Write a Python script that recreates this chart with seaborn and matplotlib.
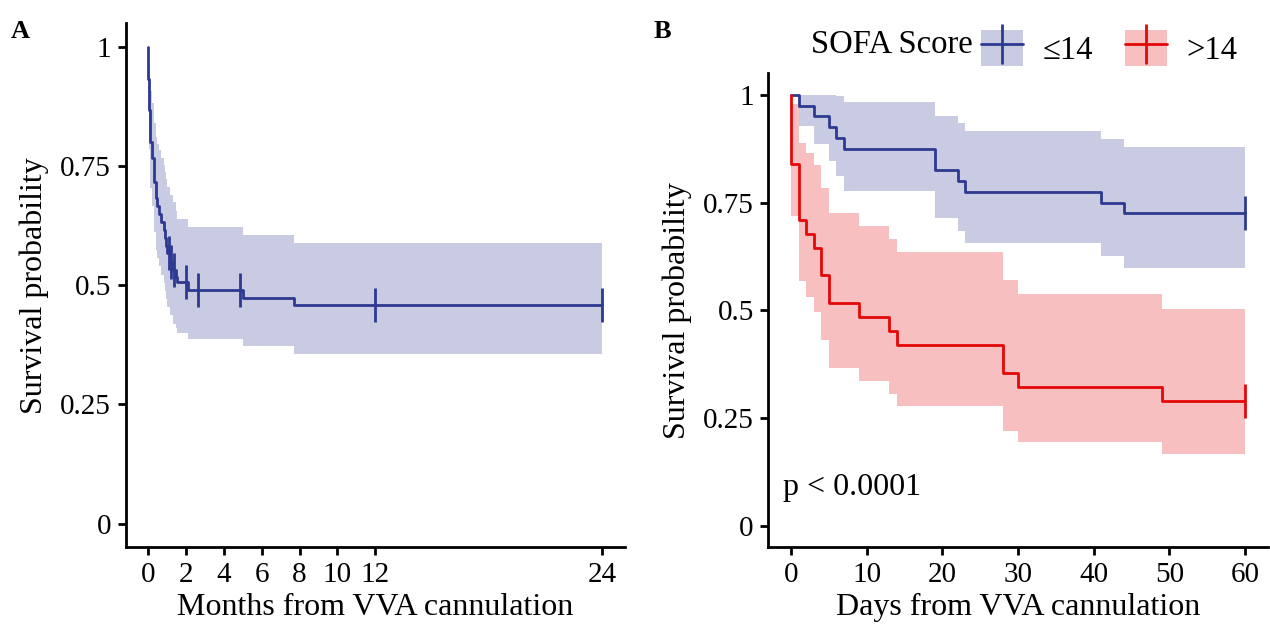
import numpy as np
import matplotlib
matplotlib.use("Agg")
import matplotlib.pyplot as plt
import seaborn as sns
from matplotlib.patches import Patch
from matplotlib.lines import Line2D

# ---- Panel A: overall survival (months) ----
months_event = [0.00, 0.04, 0.10, 0.20, 0.30, 0.38, 0.47, 0.56, 0.65, 0.80,
                0.88, 0.92, 0.97, 1.15, 1.28, 1.45, 1.50, 2.12, 5.00, 7.73]
surv_all = [0.933, 0.867, 0.800, 0.767, 0.717, 0.683, 0.667, 0.650, 0.633, 0.617,
            0.600, 0.583, 0.567, 0.549, 0.532, 0.518, 0.506, 0.490, 0.474, 0.458]
upper_all = [0.999, 0.957, 0.908, 0.882, 0.840, 0.812, 0.797, 0.783, 0.768, 0.753,
             0.738, 0.723, 0.707, 0.690, 0.675, 0.655, 0.640, 0.622, 0.605, 0.589]
lower_all = [0.872, 0.785, 0.705, 0.667, 0.611, 0.575, 0.558, 0.540, 0.522, 0.505,
             0.488, 0.471, 0.454, 0.437, 0.419, 0.410, 0.400, 0.388, 0.372, 0.356]
months_censor = [1.11, 1.22, 1.33, 1.98, 2.65, 4.87, 12.0, 24.0]
months_end = 24.0
month_ticks = [0, 2, 4, 6, 8, 10, 12, 24]

# ---- Panel B: survival by SOFA score (days) ----
days_low = [1, 3, 5, 6, 7, 19, 22, 23, 41, 44]
surv_low = [0.975, 0.950, 0.925, 0.900, 0.875, 0.825, 0.800, 0.775, 0.750, 0.725]
upper_low = [1.000, 1.000, 1.000, 0.998, 0.984, 0.952, 0.934, 0.916, 0.897, 0.878]
lower_low = [0.928, 0.885, 0.847, 0.812, 0.778, 0.715, 0.685, 0.656, 0.627, 0.599]

days_high = [0, 1, 2, 3, 4, 5, 9, 13, 14, 28, 30, 49]
surv_high = [0.839, 0.710, 0.677, 0.645, 0.581, 0.516, 0.484, 0.452, 0.419, 0.355, 0.323, 0.290]
upper_high = [0.979, 0.889, 0.864, 0.838, 0.783, 0.726, 0.696, 0.666, 0.635, 0.570, 0.537, 0.503]
lower_high = [0.719, 0.567, 0.531, 0.497, 0.431, 0.367, 0.336, 0.306, 0.277, 0.221, 0.194, 0.167]

days_censor = [60]
days_end = 60
day_ticks = [0, 10, 20, 30, 40, 50, 60]

group_labels = ["\u226414", ">14"]
y_ticks = [0, 0.25, 0.5, 0.75, 1]
y_ticklabels = ["0", "0.25", "0.5", "0.75", "1"]

BLUE = "#2E3991"
RED = "#E30808"
FILL_ALPHA = 0.26

sns.set_style("ticks")
plt.rcParams["font.family"] = ["Liberation Serif", "DejaVu Serif"]
plt.rcParams["text.color"] = "black"
plt.rcParams["axes.labelcolor"] = "black"
plt.rcParams["xtick.color"] = "black"
plt.rcParams["ytick.color"] = "black"
plt.rcParams["axes.linewidth"] = 2.0

fig = plt.figure(figsize=(12.7, 6.31), dpi=100)
axA = fig.add_axes([0.0990, 0.1326, 0.3928, 0.8306])
axB = fig.add_axes([0.6050, 0.1326, 0.3932, 0.7512])


def km_curve(ax, times, surv, upper, lower, t_end, censor, color):
    x = np.array([0.0] + list(times) + [t_end], dtype=float)
    y = np.array([1.0] + list(surv) + [surv[-1]])
    hi = np.array([1.0] + list(upper) + [upper[-1]])
    lo = np.array([1.0] + list(lower) + [lower[-1]])
    ax.fill_between(x, lo, hi, step="post", color=color, alpha=FILL_ALPHA, lw=0)
    sns.lineplot(x=x, y=y, ax=ax, color=color, lw=2.0, estimator=None,
                 sort=False, drawstyle="steps-post")
    # censoring marks sit on the curve
    idx = np.searchsorted(np.array(times, dtype=float), np.array(censor, dtype=float),
                          side="right")
    cy = np.array([1.0] + list(surv))[idx]
    ax.plot(censor, cy, ls="none", marker="|", ms=24, mew=2.0, color=color)


def style_axis(ax, xticks, xmax, xlabel):
    ax.set_xlim(-0.05 * xmax, 1.05 * xmax)
    ax.set_ylim(-0.05, 1.05)
    ax.set_xticks(xticks)
    ax.set_xticklabels([str(t) for t in xticks])
    ax.set_yticks(y_ticks)
    ax.set_yticklabels(y_ticklabels)
    ax.tick_params(axis="both", labelsize=21, length=5.5, width=2, color="black",
                   labelcolor="black", pad=5, direction="out",
                   bottom=True, left=True, top=False, right=False)
    for side in ("top", "right"):
        ax.spines[side].set_visible(False)
    for side in ("left", "bottom"):
        ax.spines[side].set_color("black")
        ax.spines[side].set_linewidth(2.0)
    ax.set_xlabel(xlabel, fontsize=23, labelpad=4)
    ax.set_ylabel("Survival probability", fontsize=23, labelpad=8)


km_curve(axA, months_event, surv_all, upper_all, lower_all, months_end,
         months_censor, BLUE)
style_axis(axA, month_ticks, months_end, "Months from VVA cannulation")

km_curve(axB, days_low, surv_low, upper_low, lower_low, days_end, days_censor, BLUE)
km_curve(axB, days_high, surv_high, upper_high, lower_high, days_end, days_censor, RED)
style_axis(axB, day_ticks, days_end, "Days from VVA cannulation")
axB.text(-1.0, 0.09, "p < 0.0001", fontsize=23, ha="left", va="center")

# panel letters
fig.text(11 / 1270, 1 - 31 / 631, "A", fontsize=19, fontweight="bold", va="center")
fig.text(654 / 1270, 1 - 31 / 631, "B", fontsize=19, fontweight="bold", va="center")

# legend for the SOFA groups
fig.text(811 / 1270, 1 - 45 / 631, "SOFA Score", fontsize=23.5, va="center", ha="left")
handles = []
for c in (BLUE, RED):
    handles.append((Patch(facecolor=c, alpha=FILL_ALPHA, lw=0),
                    Line2D([], [], color=c, lw=2.0, marker="|", ms=29, mew=2.0)))
fig.legend(handles, group_labels, loc="center left",
           bbox_to_anchor=(981 / 1270, 1 - 48 / 631), ncol=2, frameon=False,
           fontsize=23.5, handlelength=1.3, handleheight=1.3, handletextpad=0.6,
           columnspacing=0.95, borderpad=0, borderaxespad=0)

fig.savefig("out.png", dpi=100)
